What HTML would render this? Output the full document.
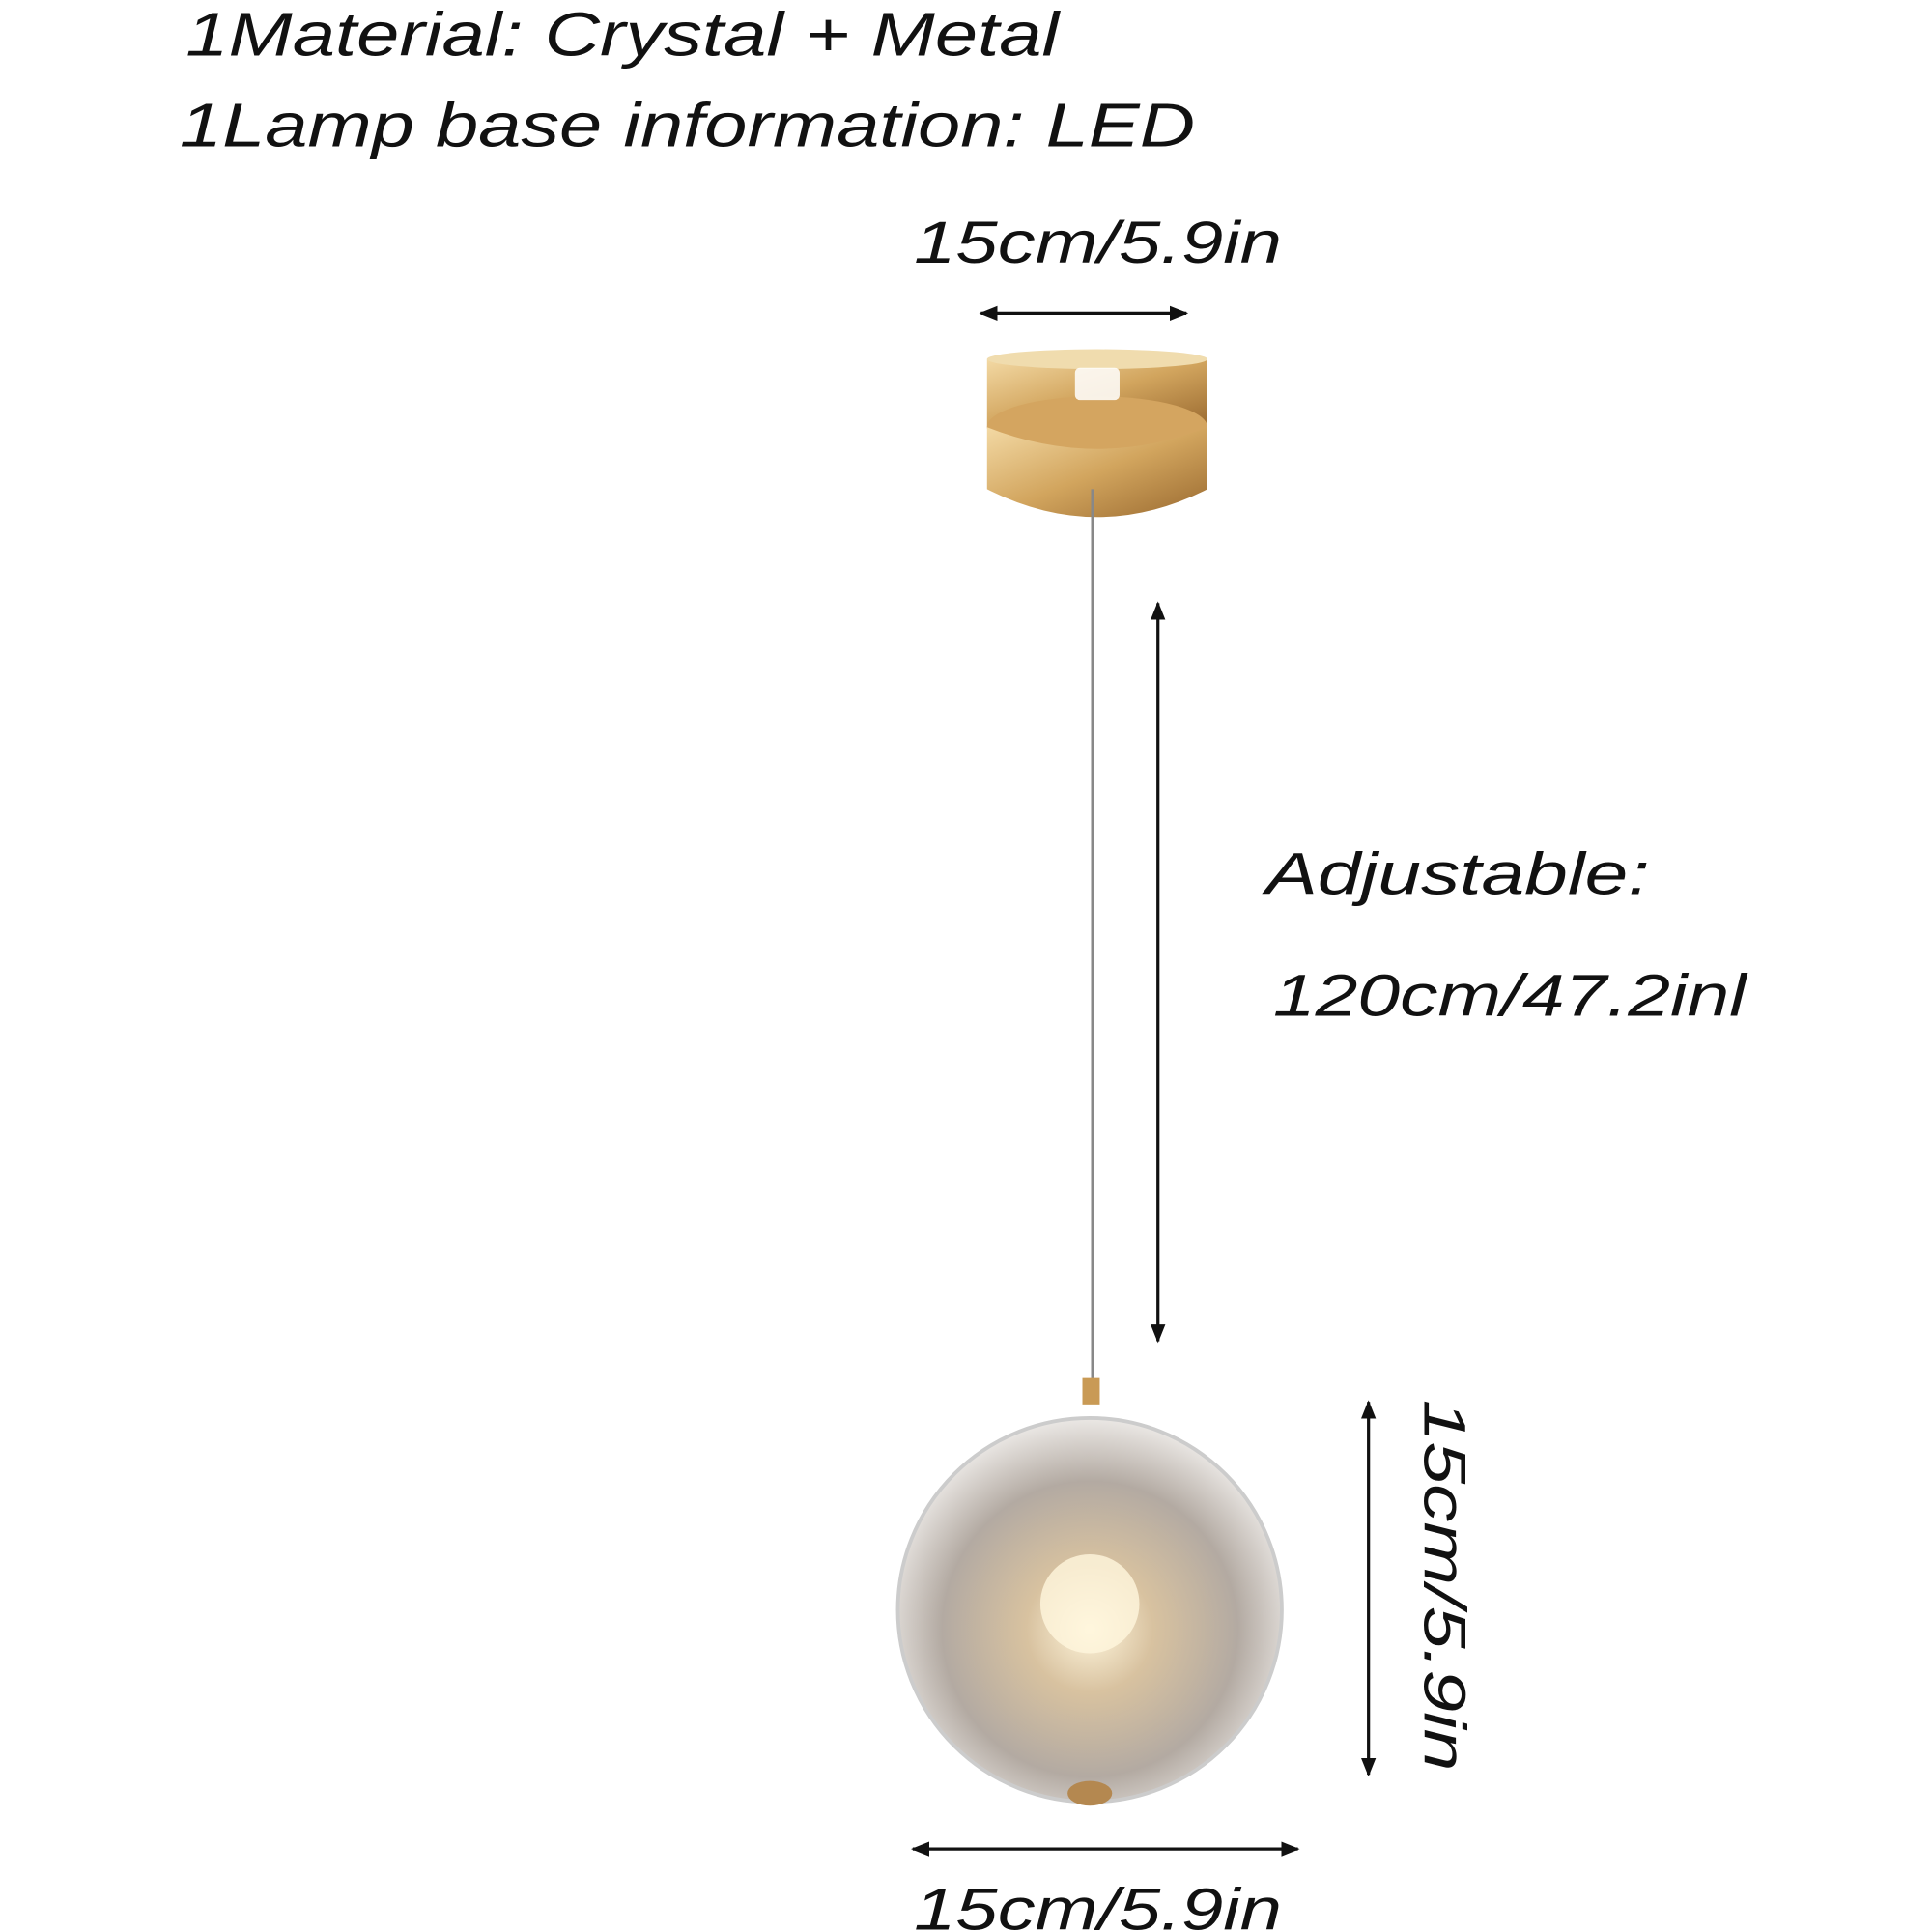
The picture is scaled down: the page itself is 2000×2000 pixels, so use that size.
<!DOCTYPE html>
<html><head><meta charset="utf-8"><style>html,body{margin:0;padding:0;background:#fff}svg{display:block}</style></head>
<body>
<svg width="2000" height="2000" viewBox="0 0 1560 1560" xmlns="http://www.w3.org/2000/svg">
<defs>
<radialGradient id="ball" cx="50%" cy="55%" r="55%">
<stop offset="0" stop-color="#fff6dc"/><stop offset="0.3" stop-color="#d8c2a0"/><stop offset="0.7" stop-color="#b3aaa2"/><stop offset="1" stop-color="#ebe8e5"/></radialGradient>
<linearGradient id="gold" x1="0" y1="0" x2="1" y2="1"><stop offset="0" stop-color="#f3d9a4"/><stop offset="0.5" stop-color="#d2a55e"/><stop offset="1" stop-color="#9a6a30"/></linearGradient>
<marker id="ah" viewBox="0 0 10 10" refX="9" refY="5" markerWidth="6" markerHeight="6" orient="auto-start-reverse"><path d="M0,1 L10,5 L0,9 Z" fill="#111"/></marker>
</defs>
<g font-family="Liberation Sans, sans-serif" font-style="italic" fill="#111" lengthAdjust="spacingAndGlyphs">
<text x="150" y="45" font-size="50" textLength="705" lengthAdjust="spacingAndGlyphs">1Material: Crystal + Metal</text>
<text x="145" y="118" font-size="50" textLength="820" lengthAdjust="spacingAndGlyphs">1Lamp base information: LED</text>
<text x="738" y="212" font-size="48" textLength="297" lengthAdjust="spacingAndGlyphs">15cm/5.9in</text>
<text x="1022" y="722" font-size="48" textLength="310" lengthAdjust="spacingAndGlyphs">Adjustable:</text>
<text x="1028" y="820" font-size="48" textLength="382" lengthAdjust="spacingAndGlyphs">120cm/47.2inl</text>
<text x="738" y="1558" font-size="48" textLength="297" lengthAdjust="spacingAndGlyphs">15cm/5.9in</text>
<text transform="translate(1150,1130) rotate(90)" font-size="48" textLength="300" lengthAdjust="spacingAndGlyphs">15cm/5.9in</text>
</g>
<g stroke="#111" stroke-width="2.5" fill="none">
<line x1="792" y1="253" x2="958" y2="253" marker-start="url(#ah)" marker-end="url(#ah)"/>
<line x1="935" y1="487" x2="935" y2="1083" marker-start="url(#ah)" marker-end="url(#ah)"/>
<line x1="1105" y1="1132" x2="1105" y2="1433" marker-start="url(#ah)" marker-end="url(#ah)"/>
<line x1="737" y1="1493" x2="1048" y2="1493" marker-start="url(#ah)" marker-end="url(#ah)"/>
</g>
<rect x="797" y="290" width="178" height="55" fill="url(#gold)"/>
<ellipse cx="886" cy="345" rx="89" ry="25" fill="#d4a560"/>
<path d="M797,345 L797,395 Q886,440 975,395 L975,345 Q886,380 797,345Z" fill="url(#gold)"/>
<ellipse cx="886" cy="290" rx="89" ry="8" fill="#f0dcae"/>
<rect x="868" y="297" width="36" height="26" rx="4" fill="#fff" opacity="0.85"/>
<line x1="882" y1="395" x2="882" y2="1118" stroke="#888" stroke-width="2"/>
<rect x="874" y="1112" width="14" height="22" fill="#c99a55"/>
<circle cx="880" cy="1300" r="155" fill="url(#ball)"/>
<circle cx="880" cy="1300" r="155" fill="none" stroke="#ccc" stroke-width="3"/>
<circle cx="880" cy="1295" r="40" fill="#fff6dd" opacity="0.8"/>
<ellipse cx="880" cy="1448" rx="18" ry="10" fill="#b48850"/>
</svg>
</body></html>
